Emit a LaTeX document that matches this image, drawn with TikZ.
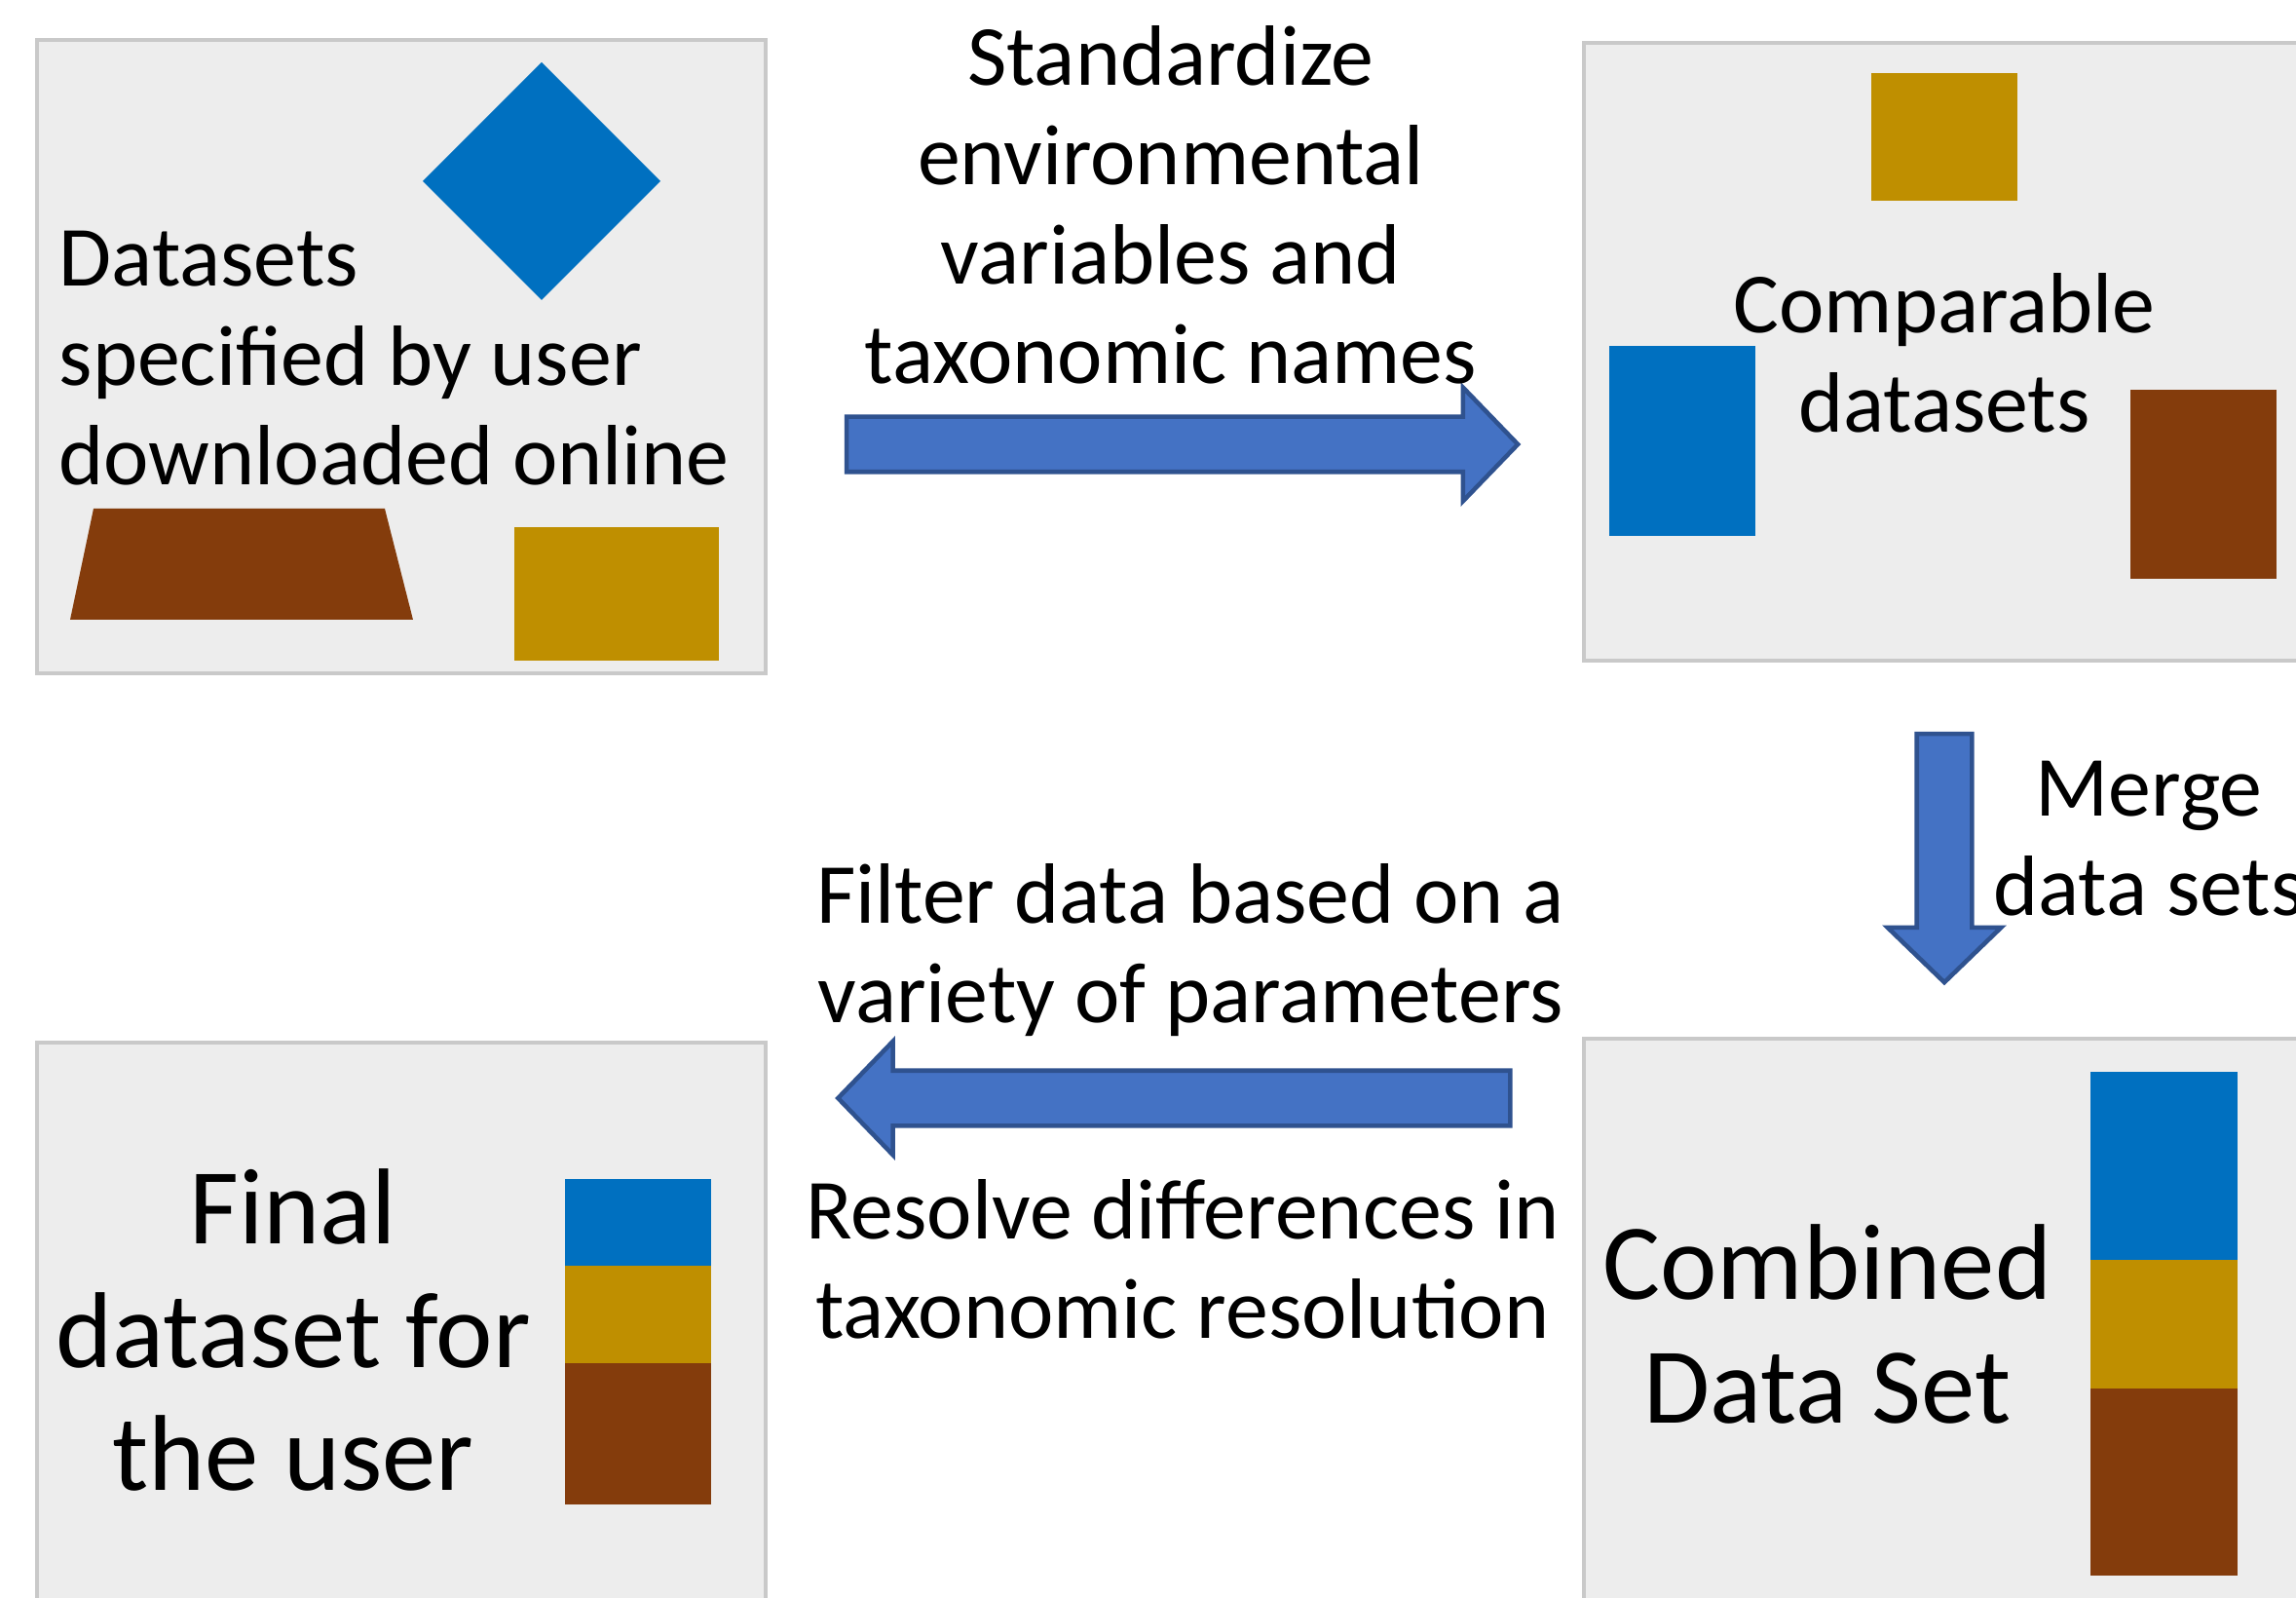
\documentclass[tikz,border=0pt]{standalone}
\usepackage{fontspec}
\setmainfont{Carlito}
\usetikzlibrary{shapes.arrows}
\definecolor{dsblue}{HTML}{0070C0}
\definecolor{dsgold}{HTML}{BF8F00}
\definecolor{dsbrown}{HTML}{843C0C}
\definecolor{panelfill}{HTML}{EDEDED}
\definecolor{panelline}{HTML}{C9C9C9}
\definecolor{arrowfill}{HTML}{4472C4}
\definecolor{arrowline}{HTML}{2F528F}
\begin{document}
\begin{tikzpicture}[
    panel/.style={rectangle,draw=panelline,fill=panelfill,line width=1.2pt,inner sep=0pt},
    blockarrow/.style={single arrow,draw=arrowline,fill=arrowfill,line width=1.3pt,
      inner xsep=0pt,inner ysep=0.26cm,single arrow head extend=0.3cm,
      single arrow tip angle=92,minimum height=#1},
    caption/.style={align=center,font=\fontsize{25}{29}\selectfont,inner sep=0pt},
    bigcaption/.style={align=center,font=\fontsize{31.5}{36}\selectfont,inner sep=0pt} ]
    \useasboundingbox (0,0) rectangle (23.57,-16.40);
    \clip (0,0) rectangle (23.57,-16.40);
    % the four panels
    \node at (4.12,-3.66) [panel,minimum width=7.48cm,minimum height=6.50cm] (raw) {};
    \node at (20.13,-3.61) [panel,minimum width=7.74cm,minimum height=6.34cm] (comparable) {};
    \node at (20.13,-13.83) [panel,minimum width=7.74cm,minimum height=6.34cm] (combined) {};
    \node at (4.12,-13.85) [panel,minimum width=7.48cm,minimum height=6.30cm] (final) {};
    % raw datasets
    \fill [dsblue] (5.56,-0.64) -- (6.78,-1.86) -- (5.56,-3.08) -- (4.34,-1.86) -- cycle;
    \fill [dsbrown] (0.96,-5.22) -- (3.95,-5.22) -- (4.24,-6.36) -- (0.72,-6.36) -- cycle;
    \fill [dsgold] (5.28,-5.41) rectangle (7.38,-6.78);
    \node at (0.60,-3.68) [caption,align=left,anchor=west] (rawtext)
      {Datasets\\specified by user\\downloaded online};
    % comparable datasets
    \fill [dsgold] (19.21,-0.75) rectangle (20.71,-2.06);
    \fill [dsblue] (16.52,-3.55) rectangle (18.02,-5.50);
    \fill [dsbrown] (21.87,-4.00) rectangle (23.37,-5.94);
    \node at (19.96,-3.62) [caption] (comparabletext) {Comparable\\datasets};
    % combined data set
    \fill [dsblue] (21.46,-11.00) rectangle (22.97,-12.93);
    \fill [dsgold] (21.46,-12.93) rectangle (22.97,-14.25);
    \fill [dsbrown] (21.46,-14.25) rectangle (22.97,-16.17);
    \node at (18.76,-13.59) [bigcaption] (combinedtext) {Combined\\Data Set};
    % final dataset
    \fill [dsblue] (5.80,-12.10) rectangle (7.30,-12.99);
    \fill [dsgold] (5.80,-12.99) rectangle (7.30,-13.99);
    \fill [dsbrown] (5.80,-13.99) rectangle (7.30,-15.44);
    \node at (3.01,-13.65) [bigcaption] (finaltext) {Final\\dataset for\\the user};
    % steps
    \node at (12.0,-4.56) [blockarrow=6.89cm] (standardize) {};
    \node at (19.96,-8.67) [blockarrow=2.55cm,rotate=-90] (merge) {};
    \node at (12.19,-11.27) [blockarrow=6.90cm,rotate=180] (filter) {};
    \node at (12.02,-2.10) [caption] (standardizetext)
      {Standardize\\environmental\\variables and\\taxonomic names};
    \node at (22.06,-8.61) [caption] (mergetext) {Merge\\data sets};
    \node at (12.22,-9.75) [caption] (filtertext)
      {Filter data based on a\\variety of parameters};
    \node at (12.14,-12.92) [caption] (resolvetext)
      {Resolve differences in\\taxonomic resolution};
\end{tikzpicture}
\end{document}
